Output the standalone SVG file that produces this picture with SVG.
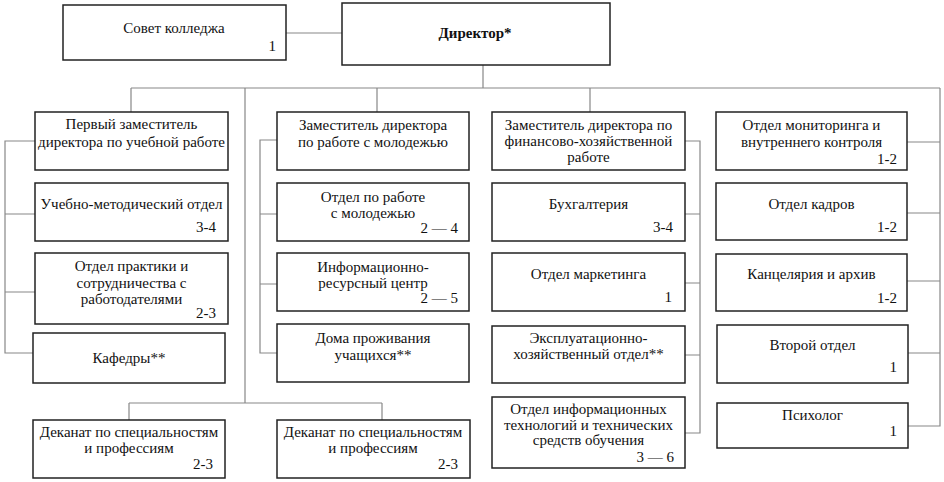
<svg xmlns="http://www.w3.org/2000/svg" width="944" height="482" viewBox="0 0 944 482">
<rect width="944" height="482" fill="#fff"/>
<g id="connectors" fill="none" stroke="#888" stroke-width="1.2">
<path d="M286 33H342"/>
<path d="M483 65V88M131 88H940M131 88V112M377 88V112M590 88V112M245 88V403M129 403H382M129 403V420M382 403V420"/>
<path d="M35 141H5V353H33M5 214H35M5 292H35"/>
<path d="M277 140H260V353H277M260 214H277M260 284H277"/>
<path d="M685 141H700V433H685M685 214H700M685 283H700M685 355H700"/>
<path d="M940 88V426H908M907 142H940M907 213H940M907 281H940M908 353H940"/>
</g>
<g id="nodes">
<g id="sovet"><rect fill="#fff" stroke="#222" stroke-width="1.5" x="63" y="5" width="223" height="55"/><text font-family="Liberation Serif" font-size="15" fill="#111" text-anchor="middle" x="174" y="33">Совет колледжа</text><text font-family="Liberation Serif" font-size="15" fill="#111" text-anchor="end" x="276" y="51">1</text></g>
<g id="director"><rect fill="#fff" stroke="#222" stroke-width="1.5" x="342" y="3" width="268" height="62"/><text font-family="Liberation Serif" font-size="15" fill="#111" font-weight="bold" text-anchor="middle" x="475" y="38">Директор*</text></g>

<g id="zam1"><rect fill="#fff" stroke="#222" stroke-width="1.5" x="35" y="112" width="193" height="58"/><text font-family="Liberation Serif" font-size="15" fill="#111" text-anchor="middle" x="131.5" y="129">Первый заместитель</text><text font-family="Liberation Serif" font-size="15" fill="#111" text-anchor="middle" x="131.5" y="147">директора по учебной работе</text></g>
<g id="umo"><rect fill="#fff" stroke="#222" stroke-width="1.5" x="35" y="183" width="193" height="58"/><text font-family="Liberation Serif" font-size="15" fill="#111" text-anchor="middle" x="131.5" y="209">Учебно-методический отдел</text><text font-family="Liberation Serif" font-size="15" fill="#111" text-anchor="end" x="216" y="232">3-4</text></g>
<g id="practice"><rect fill="#fff" stroke="#222" stroke-width="1.5" x="35" y="253" width="193" height="71"/><text font-family="Liberation Serif" font-size="15" fill="#111" text-anchor="middle" x="131.5" y="271">Отдел практики и</text><text font-family="Liberation Serif" font-size="15" fill="#111" text-anchor="middle" x="131.5" y="288">сотрудничества с</text><text font-family="Liberation Serif" font-size="15" fill="#111" text-anchor="middle" x="131.5" y="304">работодателями</text><text font-family="Liberation Serif" font-size="15" fill="#111" text-anchor="end" x="216" y="318">2-3</text></g>
<g id="kafedry"><rect fill="#fff" stroke="#222" stroke-width="1.5" x="33" y="333" width="192" height="50"/><text font-family="Liberation Serif" font-size="15" fill="#111" text-anchor="middle" x="129" y="363">Кафедры**</text></g>

<g id="zam2"><rect fill="#fff" stroke="#222" stroke-width="1.5" x="277" y="112" width="192" height="58"/><text font-family="Liberation Serif" font-size="15" fill="#111" text-anchor="middle" x="373" y="130">Заместитель директора</text><text font-family="Liberation Serif" font-size="15" fill="#111" text-anchor="middle" x="373" y="147">по работе с молодежью</text></g>
<g id="youth"><rect fill="#fff" stroke="#222" stroke-width="1.5" x="277" y="183" width="192" height="58"/><text font-family="Liberation Serif" font-size="15" fill="#111" text-anchor="middle" x="373" y="202">Отдел по работе</text><text font-family="Liberation Serif" font-size="15" fill="#111" text-anchor="middle" x="373" y="218">с молодежью</text><text font-family="Liberation Serif" font-size="15" fill="#111" text-anchor="end" x="458" y="233">2 — 4</text></g>
<g id="irc"><rect fill="#fff" stroke="#222" stroke-width="1.5" x="277" y="253" width="192" height="58"/><text font-family="Liberation Serif" font-size="15" fill="#111" text-anchor="middle" x="373" y="272">Информационно-</text><text font-family="Liberation Serif" font-size="15" fill="#111" text-anchor="middle" x="373" y="288">ресурсный центр</text><text font-family="Liberation Serif" font-size="15" fill="#111" text-anchor="end" x="458" y="303">2 — 5</text></g>
<g id="dorm"><rect fill="#fff" stroke="#222" stroke-width="1.5" x="277" y="324" width="192" height="58"/><text font-family="Liberation Serif" font-size="15" fill="#111" text-anchor="middle" x="373" y="343">Дома проживания</text><text font-family="Liberation Serif" font-size="15" fill="#111" text-anchor="middle" x="373" y="360">учащихся**</text></g>

<g id="zam3"><rect fill="#fff" stroke="#222" stroke-width="1.5" x="492" y="112" width="193" height="58"/><text font-family="Liberation Serif" font-size="15" fill="#111" text-anchor="middle" x="588.5" y="130">Заместитель директора по</text><text font-family="Liberation Serif" font-size="15" fill="#111" text-anchor="middle" x="588.5" y="146">финансово-хозяйственной</text><text font-family="Liberation Serif" font-size="15" fill="#111" text-anchor="middle" x="588.5" y="162">работе</text></g>
<g id="buh"><rect fill="#fff" stroke="#222" stroke-width="1.5" x="492" y="183" width="193" height="58"/><text font-family="Liberation Serif" font-size="15" fill="#111" text-anchor="middle" x="588.5" y="209">Бухгалтерия</text><text font-family="Liberation Serif" font-size="15" fill="#111" text-anchor="end" x="673" y="232">3-4</text></g>
<g id="marketing"><rect fill="#fff" stroke="#222" stroke-width="1.5" x="492" y="253" width="193" height="58"/><text font-family="Liberation Serif" font-size="15" fill="#111" text-anchor="middle" x="588.5" y="279">Отдел маркетинга</text><text font-family="Liberation Serif" font-size="15" fill="#111" text-anchor="end" x="672" y="302">1</text></g>
<g id="ekspl"><rect fill="#fff" stroke="#222" stroke-width="1.5" x="492" y="326" width="193" height="57"/><text font-family="Liberation Serif" font-size="15" fill="#111" text-anchor="middle" x="588.5" y="343">Эксплуатационно-</text><text font-family="Liberation Serif" font-size="15" fill="#111" text-anchor="middle" x="588.5" y="359">хозяйственный отдел**</text></g>
<g id="it"><rect fill="#fff" stroke="#222" stroke-width="1.5" x="492" y="397" width="193" height="71"/><text font-family="Liberation Serif" font-size="15" fill="#111" text-anchor="middle" x="588.5" y="414">Отдел информационных</text><text font-family="Liberation Serif" font-size="15" fill="#111" text-anchor="middle" x="588.5" y="430">технологий и технических</text><text font-family="Liberation Serif" font-size="15" fill="#111" text-anchor="middle" x="588.5" y="445">средств обучения</text><text font-family="Liberation Serif" font-size="15" fill="#111" text-anchor="end" x="674" y="462">3 — 6</text></g>

<g id="monitoring"><rect fill="#fff" stroke="#222" stroke-width="1.5" x="716" y="112" width="191" height="58"/><text font-family="Liberation Serif" font-size="15" fill="#111" text-anchor="middle" x="811.5" y="130">Отдел мониторинга и</text><text font-family="Liberation Serif" font-size="15" fill="#111" text-anchor="middle" x="811.5" y="147">внутреннего контроля</text><text font-family="Liberation Serif" font-size="15" fill="#111" text-anchor="end" x="897" y="164">1-2</text></g>
<g id="kadry"><rect fill="#fff" stroke="#222" stroke-width="1.5" x="716" y="183" width="191" height="57"/><text font-family="Liberation Serif" font-size="15" fill="#111" text-anchor="middle" x="811.5" y="209">Отдел кадров</text><text font-family="Liberation Serif" font-size="15" fill="#111" text-anchor="end" x="897" y="232">1-2</text></g>
<g id="kanc"><rect fill="#fff" stroke="#222" stroke-width="1.5" x="716" y="254" width="191" height="57"/><text font-family="Liberation Serif" font-size="15" fill="#111" text-anchor="middle" x="811.5" y="279">Канцелярия и архив</text><text font-family="Liberation Serif" font-size="15" fill="#111" text-anchor="end" x="897" y="303">1-2</text></g>
<g id="second"><rect fill="#fff" stroke="#222" stroke-width="1.5" x="717" y="325" width="191" height="58"/><text font-family="Liberation Serif" font-size="15" fill="#111" text-anchor="middle" x="812.5" y="350">Второй отдел</text><text font-family="Liberation Serif" font-size="15" fill="#111" text-anchor="end" x="897" y="372">1</text></g>
<g id="psych"><rect fill="#fff" stroke="#222" stroke-width="1.5" x="717" y="403" width="191" height="45"/><text font-family="Liberation Serif" font-size="15" fill="#111" text-anchor="middle" x="812.5" y="420">Психолог</text><text font-family="Liberation Serif" font-size="15" fill="#111" text-anchor="end" x="897" y="436">1</text></g>

<g id="dekanat1"><rect fill="#fff" stroke="#222" stroke-width="1.5" x="33" y="420" width="192" height="58"/><text font-family="Liberation Serif" font-size="15" fill="#111" text-anchor="middle" x="129" y="437">Деканат по специальностям</text><text font-family="Liberation Serif" font-size="15" fill="#111" text-anchor="middle" x="129" y="453">и профессиям</text><text font-family="Liberation Serif" font-size="15" fill="#111" text-anchor="end" x="213" y="469">2-3</text></g>
<g id="dekanat2"><rect fill="#fff" stroke="#222" stroke-width="1.5" x="277" y="420" width="193" height="58"/><text font-family="Liberation Serif" font-size="15" fill="#111" text-anchor="middle" x="373" y="437">Деканат по специальностям</text><text font-family="Liberation Serif" font-size="15" fill="#111" text-anchor="middle" x="373" y="453">и профессиям</text><text font-family="Liberation Serif" font-size="15" fill="#111" text-anchor="end" x="458" y="469">2-3</text></g>
</g>
</svg>
